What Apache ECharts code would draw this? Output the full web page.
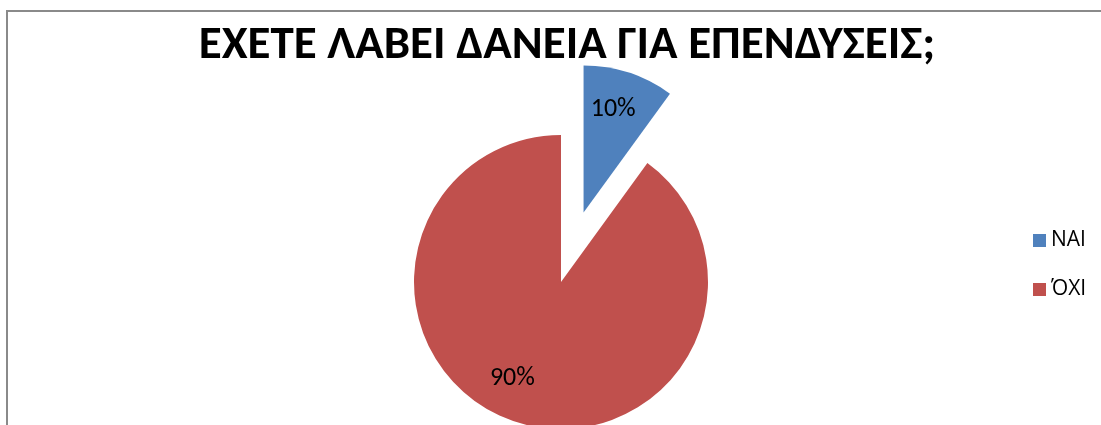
<!DOCTYPE html>
<html>
<head>
<meta charset="utf-8">
<script src="https://cdn.jsdelivr.net/npm/echarts@6/dist/echarts.min.js"></script>
<style>
  html, body { margin: 0; padding: 0; background: #fff; }
  #chart { width: 1101px; height: 425px; }
</style>
</head>
<body>
<div id="chart"></div>
<script>
// Survey answers: have you taken loans for investments?
const categories = ['ΝΑΙ', 'ΌΧΙ'];
const shares = [10, 90];
const titleText = 'ΕΧΕΤΕ ΛΑΒΕΙ ΔΑΝΕΙΑ ΓΙΑ ΕΠΕΝΔΥΣΕΙΣ;';
const sliceColors = ['#4F81BD', '#C0504D'];

// Nudges for the in-slice percentage labels
const labelShift = [[6, -30], [-25, 24]];

const FONT = "Carlito, 'Open Sans', 'Liberation Sans', sans-serif";
const LEGEND_FONT = "'Open Sans', 'Noto Sans', sans-serif";

const chart = echarts.init(document.getElementById('chart'), null, { renderer: 'canvas' });

chart.setOption({
  animation: false,
  backgroundColor: '#ffffff',
  title: {
    text: titleText,
    left: 562,
    textAlign: 'center',
    top: 18,
    textStyle: { fontFamily: FONT, fontWeight: 'bold', fontSize: 47, color: '#000' }
  },
  legend: {
    orient: 'vertical',
    left: 1028,
    top: 224,
    itemWidth: 13,
    itemHeight: 13,
    itemGap: 26,
    icon: 'rect',
    selectedMode: false,
    data: categories,
    textStyle: { fontFamily: LEGEND_FONT, fontSize: 21, color: '#000', lineHeight: 23 }
  },
  graphic: [{
    type: 'rect',
    shape: { x: 7, y: 11, width: 1300, height: 600 },
    style: { fill: 'none', stroke: '#8a8a8a', lineWidth: 2 },
    silent: true
  }],
  series: [{
    type: 'pie',
    center: [561, 282],
    radius: [0, 147],
    startAngle: 90,
    clockwise: true,
    selectedMode: 'single',
    selectedOffset: 73,
    avoidLabelOverlap: false,
    emphasis: { disabled: true },
    label: {
      show: true,
      position: 'inside',
      formatter: p => p.value + '%',
      fontFamily: FONT,
      fontSize: 26,
      color: '#000'
    },
    labelLine: { show: false },
    labelLayout: p => ({ dx: labelShift[p.dataIndex][0], dy: labelShift[p.dataIndex][1] }),
    data: categories.map((name, i) => ({
      name,
      value: shares[i],
      selected: i === 0,
      itemStyle: { color: sliceColors[i] }
    }))
  }]
});
</script>
</body>
</html>
